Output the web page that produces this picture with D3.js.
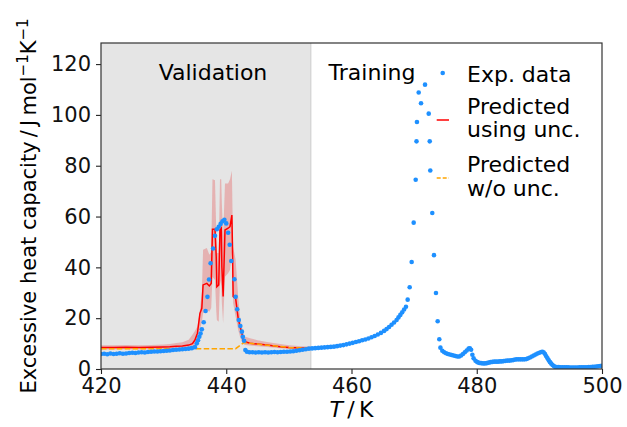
<!DOCTYPE html>
<html><head><meta charset="utf-8">
<script src="https://cdn.jsdelivr.net/npm/d3@7"></script>
<style>body{margin:0;background:#fff}svg text{font-family:"DejaVu Sans",sans-serif}</style>
</head><body><svg id="c" width="627" height="427"></svg>
<script>
// Experimental data
const expT = [420,420.5,421,421.5,422,422.5,423,423.5,424,424.5,425,425.5,426,426.5,427,427.5,428,428.5,429,429.5,430,430.5,431,431.5,432,432.5,433,433.5,434,434.5,435,435.3,435.5,435.7,435.9,436.1,436.4,436.7,437.0,437.25,437.5,437.9,438.2,438.5,438.8,439.1,439.4,439.7,440.0,440.3,440.55,440.8,441.3,441.5,441.75,442.0,442.25,442.5,442.65,442.85,443.05,443.3,443.7,444.2,444.7,445.2,445.7,446.2,446.7,447.2,447.7,448.2,448.7,449.2,449.7,450.2,450.7,451.2,451.7,452.2,452.7,453.2,453.7,
454.2,454.7,455.2,455.7,456.2,456.7,457.2,457.7,458.2,458.7,459.2,459.7,460.2,460.7,461.2,461.7,462.2,462.7,463.2,463.7,464.2,464.7,465.2,465.6,466.0,466.4,466.8,467.2,467.5,467.8,468.1,468.4,468.7,468.97,469.29,469.61,469.93,470.25,470.38,470.45,470.73,471.10,471.74,472.33,472.49,472.58,472.90,473.17,473.49,473.76,474.02,474.2,474.5,474.8,475.1,475.4,475.7,476.0,476.3,476.6,476.9,477.2,477.5,477.8,478.1,478.4,478.7,478.9,479.1,479.3,479.5,479.8,480.1,480.4,480.7,481.0,481.3,481.6,481.9,482.2,482.5,482.8,483.1,483.4,483.7,484.0,484.3,484.6,484.9,485.2,485.5,485.8,486.1,486.4,486.7,487.0,487.3,487.6,487.9,488.2,488.5,488.8,489.1,489.4,489.7,490.0,490.3,490.5,490.7,490.9,491.1,491.3,491.5,491.7,491.9,492.1,492.3,492.5,492.8,493.1,493.4,493.7,494.0,494.3,494.6,494.9,495.2,495.5,495.8,496.1,496.4,496.7,497.0,497.3,497.6,497.9,498.2,498.5,498.8,499.1,499.4,499.7,500.0];
const expCp = [5.9,6.0,5.8,6.1,5.9,6.0,6.2,6.0,6.1,6.3,6.4,6.3,6.5,6.6,6.5,6.7,6.8,6.9,6.9,7.0,7.1,7.2,7.3,7.5,7.6,7.7,7.8,7.9,8.0,8.2,8.6,10.1,11.3,12.7,14.0,15.6,18.4,22.8,28.4,35.2,41.6,47.4,52.4,55.0,56.0,57.1,58.1,58.7,57.3,53.6,48.9,42.5,35.3,28.4,23.5,19.3,16.9,14.7,12.7,11.1,7.5,6.8,6.6,6.6,6.5,6.6,6.5,6.6,6.5,6.6,6.7,6.6,6.7,6.8,6.8,6.9,7.0,7.2,7.4,7.6,7.8,8.0,8.1,
8.2,8.3,8.4,8.5,8.6,8.7,8.8,9.0,9.2,9.4,9.7,10.0,10.3,10.6,10.9,11.3,11.6,12.0,12.5,13.0,13.6,14.2,15.0,15.7,16.5,17.4,18.3,19.3,20.3,21.3,22.3,23.4,24.5,27.3,32.2,42.1,57.6,74.5,89.6,97.2,108.8,104.6,111.9,100.5,89.6,78.1,61.4,44.8,29.9,18.8,11.7,8.4,7.2,6.6,6.2,5.9,5.7,5.5,5.3,5.1,4.9,4.9,5.3,5.9,6.6,7.3,8.0,8.1,7.6,5.6,4.2,3.2,2.7,2.4,2.3,2.2,2.2,2.3,2.5,2.7,2.8,2.9,2.9,2.9,3.0,3.0,3.1,3.2,3.3,3.3,3.4,3.5,3.7,3.8,3.8,3.8,3.8,3.8,3.9,4.2,4.5,4.9,5.3,5.7,6.1,6.4,6.7,6.8,6.5,5.9,5.0,4.2,3.4,2.7,2.1,1.6,1.2,0.9,0.8,0.8,0.7,0.7,0.7,0.7,0.7,0.6,0.6,0.6,0.6,0.6,0.7,0.7,0.7,0.7,0.7,0.8,0.8,0.9,0.9,1.0,1.1,1.2,1.3];

// Predicted using uncertainty (mean, lower, upper)
const predT  = [420,422,424,426,428,430,431,432,433,434,434.6,435.0,435.4,435.8,436.1,436.3,436.9,437.3,437.6,437.8,438.2,438.4,438.5,438.8,439.0,439.2,439.3,439.5,439.8,440.3,440.6,440.9,441.0,441.1,441.5,441.9,442.2,442.5,442.7,443.0,443.8,445,446.5,448.6,450,452,453.5];
const predCp = [8.5,8.5,8.6,8.5,8.6,8.7,8.8,9.0,9.1,9.4,10.0,11.4,14.1,21.9,23.9,33.1,33.7,32.7,33.7,55.0,55.0,44.2,32.4,33.1,54.7,55.4,40.3,28.5,54.7,55.4,56.0,60.6,46.9,28.5,27.8,20.0,16.7,14.1,11.4,10.7,10.1,9.8,9.4,8.8,8.5,8.3,8.2];
const predLo = [7.7,7.7,7.8,7.7,7.8,7.9,7.9,8.0,8.1,8.3,8.6,9.5,11.4,15.4,18.5,21.9,23.2,22.5,24,36.3,35,23.2,19.3,18.6,35,33,26,18,36.3,37.7,39,45.7,35,25.9,20.6,15.4,12.7,10.7,9.8,9.4,9.2,9.0,8.7,8.2,7.9,7.7,7.6];
const predHi = [9.3,9.3,9.4,9.3,9.4,9.6,9.8,10.2,10.5,11.5,13.5,15.0,16.7,23.2,30,46.9,47.6,45,46,74.7,74.3,54.7,45.7,45.7,74.7,74.7,65,52,73,73,74.7,78,62,48,43,28.5,20.6,16.7,14.0,12.7,12.1,11.3,10.6,9.8,9.3,9.0,8.9];

// Predicted without uncertainty
const woT  = [420,441.5,442.8,446,450,453.5];
const woCp = [8.0,8.0,10.4,9.5,8.5,8.1];

const xTicks = [420,440,460,480,500];
const yTicks = [0,20,40,60,80,100,120];
const valEnd = 453.5;

const W=627,H=427, m={l:101,r:25,t:43,b:58};
const svg=d3.select("#c");
const x=d3.scaleLinear().domain([420,500]).range([m.l,W-m.r]);
const y=d3.scaleLinear().domain([0,128.3]).range([H-m.b,m.t]);
const FS=22, TFS=21;

svg.append("defs").append("clipPath").attr("id","clip").append("rect")
  .attr("x",m.l).attr("y",m.t).attr("width",W-m.l-m.r).attr("height",H-m.t-m.b);
const g=svg.append("g").attr("clip-path","url(#clip)");

// validation span
g.append("rect").attr("x",x(420)).attr("y",m.t).attr("width",x(valEnd)-x(420)).attr("height",H-m.t-m.b)
  .attr("fill","#e5e5e5");
g.append("line").attr("x1",x(valEnd)).attr("x2",x(valEnd)).attr("y1",m.t).attr("y2",H-m.b)
  .attr("stroke","#d2d2d2").attr("stroke-width",1.2);

const pred=predT.map((t,i)=>({t,c:predCp[i],lo:predLo[i],hi:predHi[i]}));
g.append("path").datum(pred).attr("fill","rgba(230,40,40,0.27)")
  .attr("d",d3.area().x(d=>x(d.t)).y0(d=>y(d.lo)).y1(d=>y(d.hi)));
g.append("path").datum(pred).attr("fill","none").attr("stroke","#ff0000").attr("stroke-width",1.5)
  .attr("d",d3.line().x(d=>x(d.t)).y(d=>y(d.c)));
g.append("path").datum(woT.map((t,i)=>({t,c:woCp[i]}))).attr("fill","none").attr("stroke","#ffa500")
  .attr("stroke-width",1.5).attr("stroke-dasharray","5.5,2.4")
  .attr("d",d3.line().x(d=>x(d.t)).y(d=>y(d.c)));

g.selectAll("circle.e").data(expT.map((t,i)=>({t,c:expCp[i]}))).join("circle").attr("class","e")
  .attr("cx",d=>x(d.t)).attr("cy",d=>y(d.c)).attr("r",2.3).attr("fill","#1e90ff");

// axes
const xa=svg.append("g").attr("transform",`translate(0,${H-m.b})`)
  .call(d3.axisBottom(x).tickValues(xTicks).tickSize(5).tickPadding(4));
const ya=svg.append("g").attr("transform",`translate(${m.l},0)`)
  .call(d3.axisLeft(y).tickValues(yTicks).tickSize(5).tickPadding(5));
[xa,ya].forEach(a=>{a.select(".domain").remove();a.selectAll("line").attr("stroke","#222").attr("stroke-width",1.1);
  a.selectAll("text").attr("font-size",TFS).attr("fill","#111").attr("font-family","DejaVu Sans");});
svg.append("rect").attr("x",m.l).attr("y",m.t).attr("width",W-m.l-m.r).attr("height",H-m.t-m.b)
  .attr("fill","none").attr("stroke","#333").attr("stroke-width",1.2);

// region labels
svg.append("text").attr("x",213).attr("y",80).attr("text-anchor","middle").attr("font-size",FS).text("Validation");
svg.append("text").attr("x",372).attr("y",80).attr("text-anchor","middle").attr("font-size",FS).text("Training");

// legend
svg.append("circle").attr("cx",442.7).attr("cy",73).attr("r",2.3).attr("fill","#1e90ff");
svg.append("text").attr("x",467).attr("y",81.5).attr("font-size",FS).text("Exp. data");
svg.append("line").attr("x1",436.7).attr("x2",449).attr("y1",120).attr("y2",120).attr("stroke","#ff0000").attr("stroke-width",1.5);
svg.append("text").attr("x",467).attr("y",114).attr("font-size",FS).text("Predicted");
svg.append("text").attr("x",467).attr("y",137.3).attr("font-size",FS).text("using unc.");
svg.append("line").attr("x1",436.7).attr("x2",449).attr("y1",178).attr("y2",178).attr("stroke","#ffa500").attr("stroke-width",1.5).attr("stroke-dasharray","4,2");
svg.append("text").attr("x",467).attr("y",171.7).attr("font-size",FS).text("Predicted");
svg.append("text").attr("x",467).attr("y",195.5).attr("font-size",FS).text("w/o unc.");

// axis labels
const xl=svg.append("text").attr("x",(m.l+W-m.r)/2).attr("y",417).attr("text-anchor","middle").attr("font-size",FS);
xl.append("tspan").attr("font-style","italic").text("T");
xl.append("tspan").text("\u2009/\u2009K");
const yl=svg.append("text").attr("transform",`translate(36,${(m.t+H-m.b)/2}) rotate(-90)`).attr("text-anchor","middle").attr("font-size",FS-1);
yl.append("tspan").text("Excessive heat capacity\u2009/\u2009J\u2009mol");
yl.append("tspan").attr("font-size",15).attr("dy",-8).text("\u22121");
yl.append("tspan").attr("dy",8).text("K");
yl.append("tspan").attr("font-size",15).attr("dy",-8).text("\u22121");
</script></body></html>
